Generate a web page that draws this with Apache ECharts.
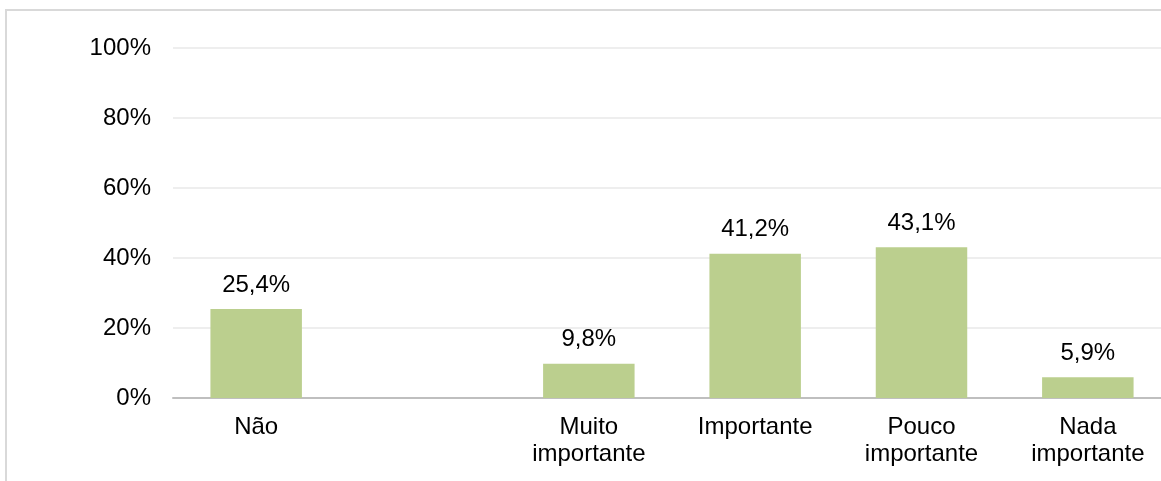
<!DOCTYPE html>
<html>
<head>
<meta charset="utf-8">
<script src="https://cdn.jsdelivr.net/npm/echarts@6/dist/echarts.min.js"></script>
<style>
html,body{margin:0;padding:0;background:#fff;}
#c{width:1161px;height:481px;}
</style>
</head>
<body>
<div id="c"></div>
<script>
const categories = ['Não', '', 'Muito\nimportante', 'Importante', 'Pouco\nimportante', 'Nada\nimportante'];
const values = [25.4, null, 9.8, 41.2, 43.1, 5.9];
const yTicks = [0, 20, 40, 60, 80, 100];

const chart = echarts.init(document.getElementById('c'));
chart.setOption({
  animation: false,
  graphic: [{
    type: 'rect',
    shape: { x: 6, y: 10, width: 1300, height: 600 },
    style: { fill: 'none', stroke: '#d9d9d9', lineWidth: 2 },
    silent: true,
    z: -1
  }],
  grid: { left: 173, right: -10, top: 48, bottom: 83, containLabel: false, outerBoundsMode: 'none' },
  xAxis: {
    type: 'category',
    data: categories,
    axisLine: { lineStyle: { color: '#bfbfbf', width: 2 } },
    axisTick: { show: false },
    axisLabel: { color: '#000', fontFamily: 'Liberation Sans, Arial', fontSize: 24, lineHeight: 27, margin: 16, interval: 0 }
  },
  yAxis: {
    type: 'value',
    min: yTicks[0],
    max: yTicks[yTicks.length - 1],
    interval: 20,
    axisLine: { show: false },
    axisTick: { show: false },
    splitLine: { lineStyle: { color: '#eeeeee', width: 2 } },
    axisLabel: { color: '#000', fontFamily: 'Liberation Sans, Arial', fontSize: 24, margin: 22, formatter: v => v + '%' }
  },
  series: [{
    type: 'bar',
    data: values,
    barWidth: '55%',
    itemStyle: { color: '#bbcf8e' },
    label: {
      show: true,
      position: 'top',
      distance: 12,
      color: '#000',
      fontFamily: 'Liberation Sans, Arial',
      fontSize: 24,
      formatter: p => p.value == null ? '' : p.value.toFixed(1).replace('.', ',') + '%'
    }
  }]
});
</script>
</body>
</html>
